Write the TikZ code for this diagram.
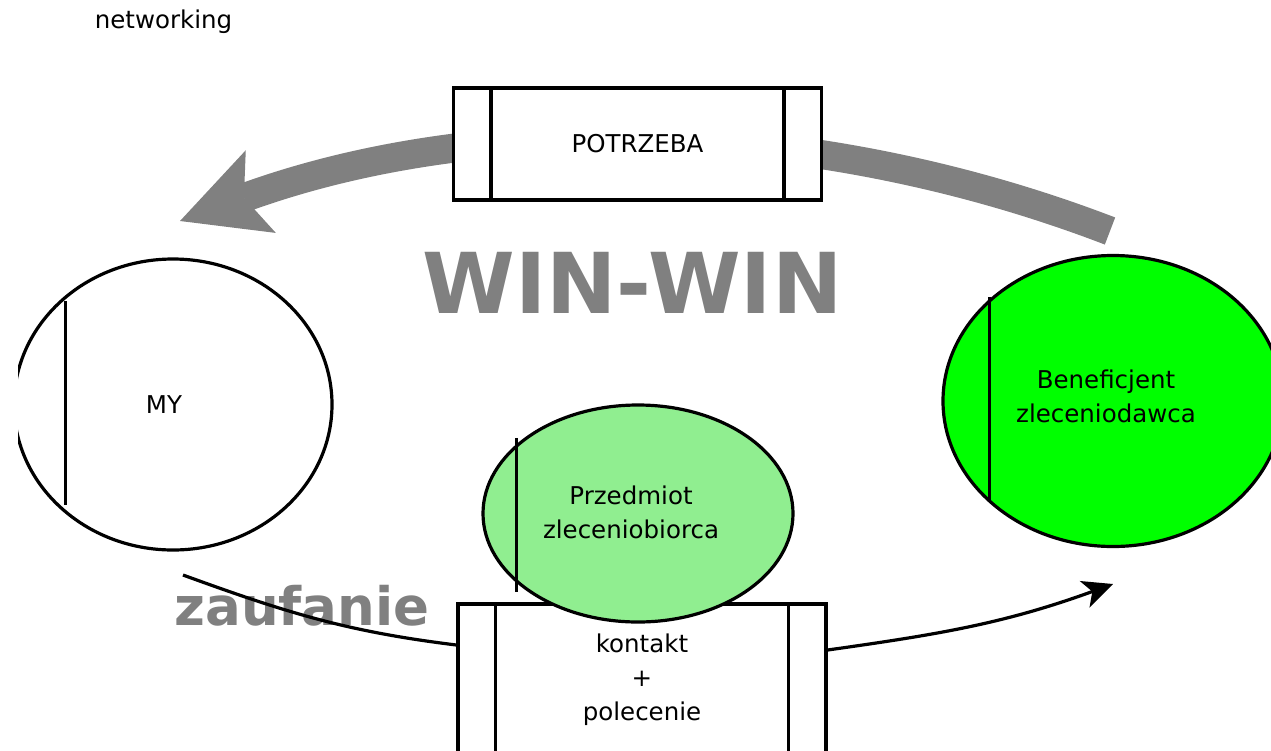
\documentclass[tikz,border=0pt]{standalone}
\usepackage{fontspec}
\setmainfont{DejaVu Sans}
\usetikzlibrary{shapes.geometric,arrows.meta,positioning}

\definecolor{palegreen}{HTML}{90EE90}
\definecolor{brightgreen}{HTML}{00FF00}

\tikzset{
  rails/.style={draw, line width=3.2pt, fill=white, minimum width=368pt, inner sep=0pt,
    path picture={\draw[line width=3.2pt]
      ([xshift=37.5pt]path picture bounding box.north west) -- ([xshift=37.5pt]path picture bounding box.south west)
      ([xshift=-37.5pt]path picture bounding box.north east) -- ([xshift=-37.5pt]path picture bounding box.south east);}},
  blob/.style={ellipse, draw, line width=3.2pt, inner sep=0pt},
  big/.style={font=\bfseries\fontsize{#1}{#1}\selectfont, text=gray},
}

\begin{document}
\begin{tikzpicture}[x=1pt, y=1pt, font=\fontsize{24.5}{34}\selectfont]
        \useasboundingbox (0,0) rectangle (1271,-750);
        \begin{scope}
            \clip (18,0) rectangle (1271,-750);
            % big grey arrow under the box
            \coordinate (needstart) at (1110,-231);
            \coordinate (needtip) at (180,-221);
            \draw[line width=29pt, gray, -{Stealth[length=86pt, width=88pt, inset=18pt, line width=0pt]}]
                (needstart) to[out=159, in=20, looseness=0.88] (needtip);
            \node[anchor=base] (net) at (163.5,-28) {networking};
            \node[rails, minimum height=112pt] (need) at (637.5,-144) {POTRZEBA};
            \node[big=84] (winwin) at (632.5,-283) {WIN-WIN};
            % the three parties
            \node[blob, minimum width=318pt, minimum height=291pt] (my) at (173,-404.5) {};
            \draw[line width=3.2pt] (my.west |- my.north) ++(53,-44) -- ++(0,-204);
            \node (mytext) at ([xshift=-9pt]my.center) {MY};
            \node[blob, fill=brightgreen, minimum width=340pt, minimum height=291pt] (benef) at (1113,-401) {};
            \draw[line width=3.2pt] (benef.west |- benef.north) ++(48,-43) -- ++(0,-205);
            \node[align=center] (beneftext) at ([shift={(-7,5)}]benef.center) {Beneficjent\\zleceniodawca};
            \node[rails, minimum height=152pt, align=center] (contact) at (642,-680) {kontakt\\+\\polecenie};
            \node[blob, fill=palegreen, minimum width=310pt, minimum height=217pt] (subj) at (638,-513.5) {};
            \draw[line width=3.2pt] (subj.west |- subj.north) ++(35,-34.5) -- ++(0,-154);
            \node[align=center] (subjtext) at ([shift={(-7,1.5)}]subj.center) {Przedmiot\\zleceniobiorca};
            % trust line
            \node[big=53, anchor=base] (trust) at (302,-625) {zaufanie};
            \coordinate (truststart) at (183,-575);
            \coordinate (benefend) at (1113,-584);
            \draw[line width=3.2pt] (truststart) to[out=-20, in=173] ([yshift=35pt]contact.west);
            \draw[line width=3.2pt, -{Stealth[length=30pt, width=28pt, inset=8pt]}]
                ([yshift=30pt]contact.east) to[out=8, in=-160] (benefend);
        \end{scope}
    \end{tikzpicture}
\end{document}
